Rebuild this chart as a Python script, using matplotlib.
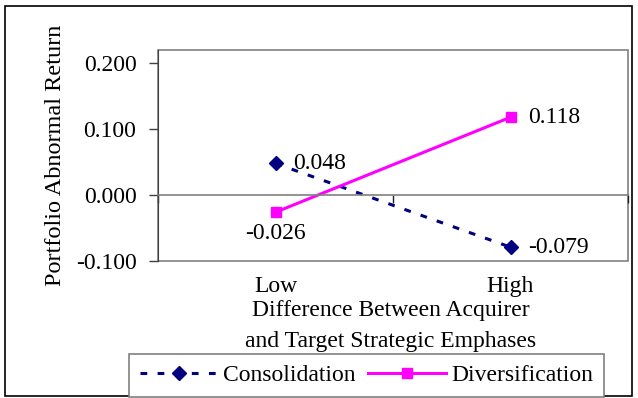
import matplotlib.pyplot as plt
from matplotlib.patches import Rectangle
from matplotlib.transforms import blended_transform_factory

plt.rcParams['font.family'] = ['Liberation Serif', 'DejaVu Serif']
plt.rcParams['font.size'] = 17

# Données
categories = ['Low', 'High']
consolidation = [0.048, -0.079]
diversification = [-0.026, 0.118]
yticks = [-0.1, 0.0, 0.1, 0.2]

fig = plt.figure(figsize=(6.38, 3.98), dpi=100)
ax = fig.add_axes([158/638, 1 - 261/398, 470/638, 211/398])

x = list(range(len(categories)))
ax.plot(x, consolidation, color='#000080', lw=2.2, dashes=(2.2, 3.4),
        marker='D', markersize=7.5, label='Consolidation')
ax.plot(x, diversification, color='#FF00FF', lw=2.2,
        marker='s', markersize=7.5, label='Diversification')

ax.set_xlim(-0.5, len(categories) - 0.5)
ax.set_ylim(-0.1, 0.22)
ax.set_yticks(yticks)
ax.set_yticklabels([f'{v:.3f}' for v in yticks])
ax.tick_params(axis='y', direction='out', length=6.5, width=1, color='#404040', pad=9)

# cadre de la zone de tracé
ax.patch.set_edgecolor('#808080')
ax.patch.set_linewidth(1.2)
for s in ['top', 'right']:
    ax.spines[s].set_visible(False)
ax.spines['left'].set_color('#404040')
ax.spines['bottom'].set_position(('data', 0))
ax.spines['bottom'].set_color('#808080')
ax.spines['bottom'].set_linewidth(1.2)
ax.set_xticks([i - 0.5 for i in range(len(categories) + 1)])
ax.set_xticklabels([])
ax.tick_params(axis='x', direction='out', length=6, width=1, color='#202020')

# étiquettes des catégories en bas
tr = blended_transform_factory(ax.transData, ax.transAxes)
for i, c in enumerate(categories):
    ax.text(i, -0.07, c, transform=tr, ha='center', va='top')

# étiquettes des valeurs
ax.annotate(f'{consolidation[0]:.3f}', (0, consolidation[0]), xytext=(13, 0),
            textcoords='offset points', ha='left', va='center')
ax.annotate(f'{diversification[0]:.3f}', (0, diversification[0]), xytext=(0, -15),
            textcoords='offset points', ha='center', va='center')
ax.annotate(f'{diversification[1]:.3f}', (1, diversification[1]), xytext=(13, 0),
            textcoords='offset points', ha='left', va='center')
ax.annotate(f'{consolidation[1]:.3f}', (1, consolidation[1]), xytext=(13, 0),
            textcoords='offset points', ha='left', va='center')

ax.set_ylabel('Portfolio Abnormal Return', fontsize=17.5)
ax.yaxis.set_label_coords(-0.195, 0.5)

fig.text(391/638, 1 - 326/398, 'Difference Between Acquirer\nand Target Strategic Emphases',
         ha='center', va='center', linespacing=1.65, fontsize=17)

leg = fig.legend(loc='upper left', bbox_to_anchor=(129/638, 1 - 354/398), ncol=2,
                 handlelength=3.3, handletextpad=0.25, columnspacing=0.5,
                 borderpad=0.45, borderaxespad=0, fancybox=False, framealpha=1,
                 edgecolor='#808080', fontsize=17)
leg.get_frame().set_linewidth(1.2)

# bordure extérieure
fig.patches.append(Rectangle((5/638, 2/398), 627/638, 390/398, transform=fig.transFigure,
                             fill=False, edgecolor='black', lw=1.2, zorder=-1))

fig.savefig('out.png', dpi=100)
